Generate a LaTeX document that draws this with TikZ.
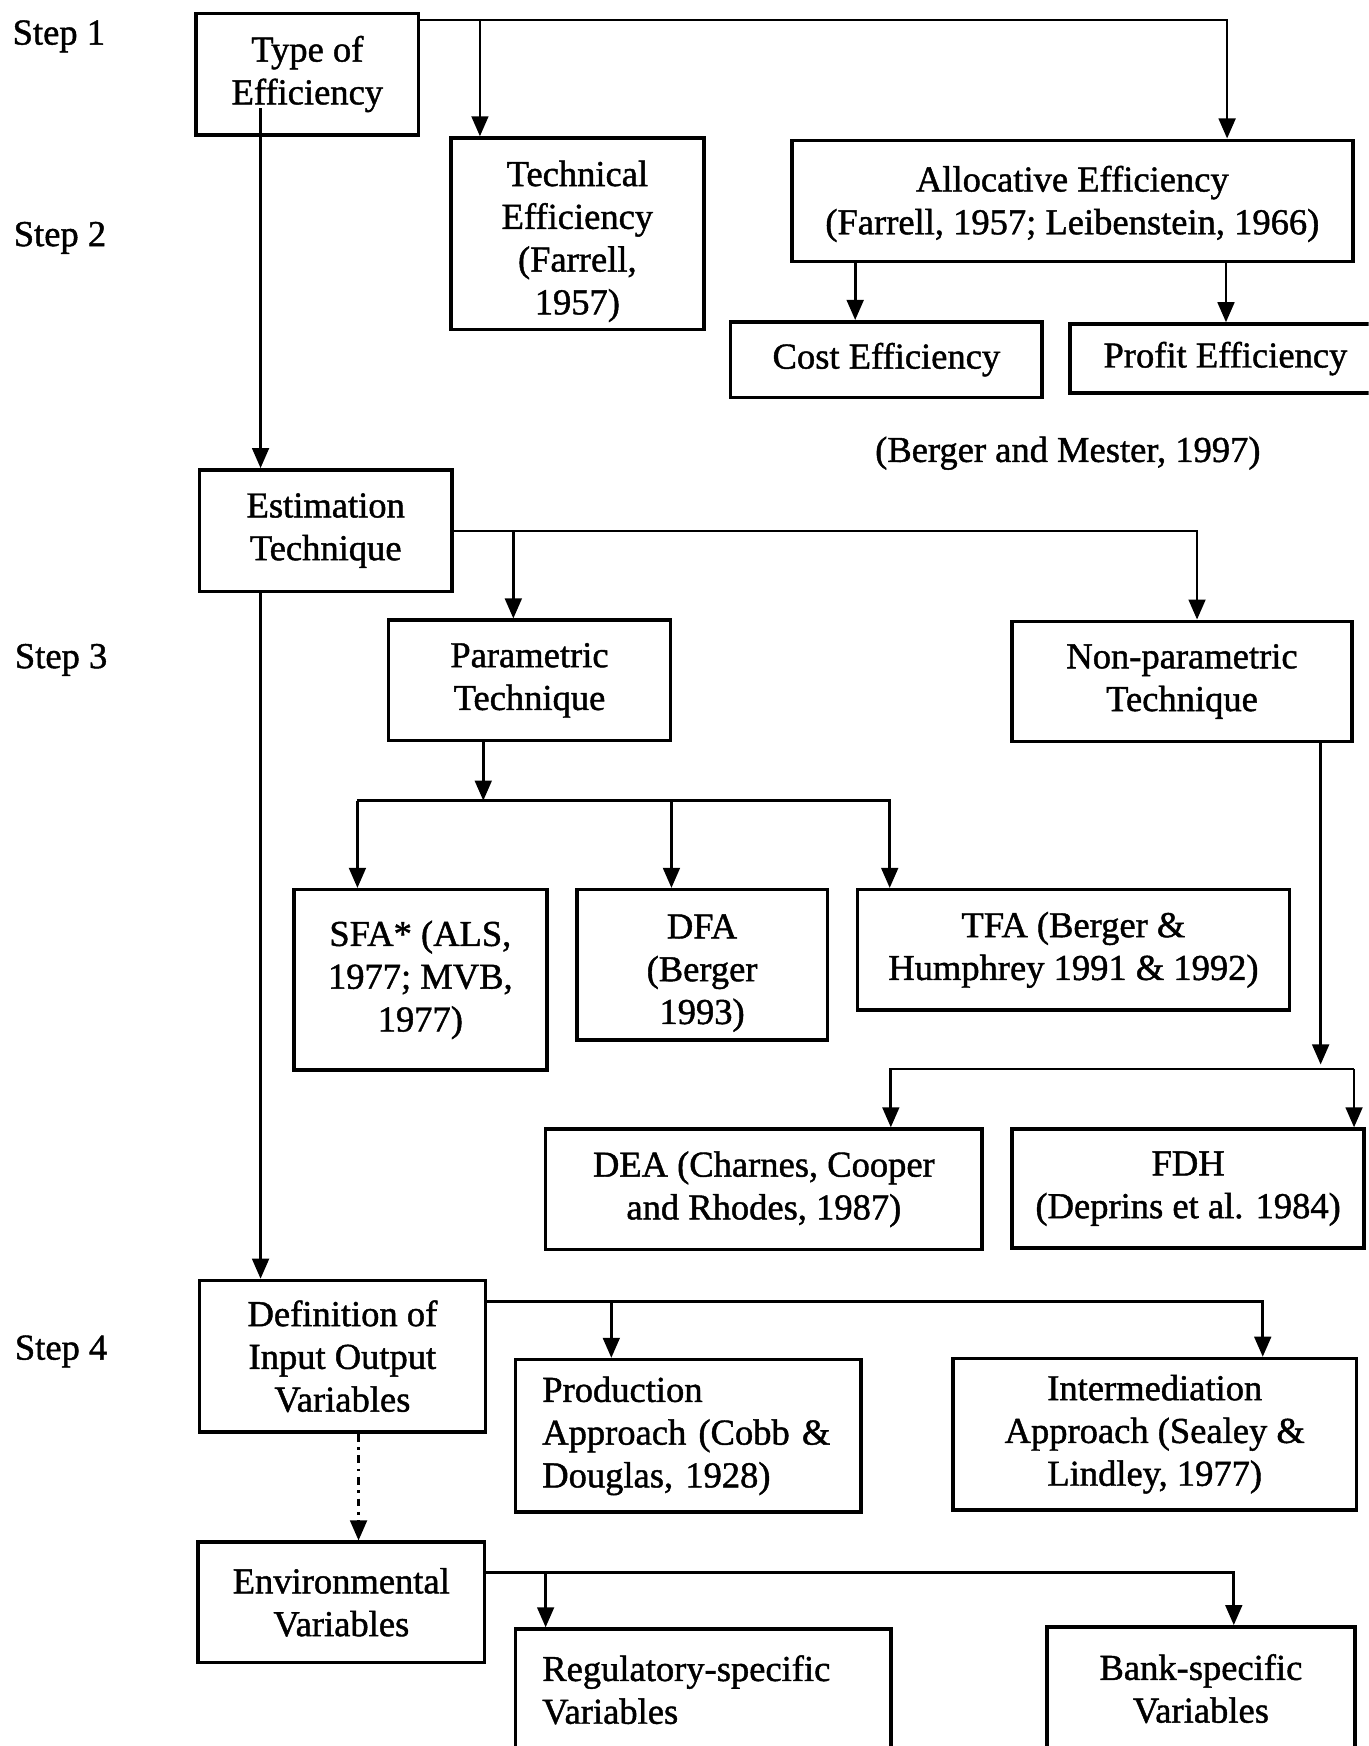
\documentclass[tikz,border=0pt]{standalone}
\usepackage{fontspec}
\setmainfont{Liberation Serif}[FakeBold=1.2]
\usetikzlibrary{arrows.meta}

% text size used throughout the chart
\newcommand{\chartfont}{\fontsize{16.4}{19.2}\selectfont}

% \drawbox[options]{name}{x1}{y1}{x2}{y2}{text}: a framed box spanning the two corners
\newcommand{\drawbox}[7][]{%
  \node[box, minimum width={(#5-#3)*0.5pt}, minimum height={(#6-#4)*0.5pt}, #1]
    (#2) at ({(#3+#5)/2},{(#4+#6)/2}) {#7};}

% \lowered{amount}{lines}: centred lines set lower in their box by half the amount
\newcommand{\lowered}[2]{\raisebox{0pt}[\dimexpr\height+#1\relax]{\begin{tabular}{@{}c@{}}#2\end{tabular}}}

\begin{document}
\begin{tikzpicture}[x=0.5pt, y=-0.5pt,
  box/.style={draw, line width=1.6pt, inner sep=0pt, align=center, font=\chartfont},
  lbl/.style={inner sep=0pt, font=\chartfont},
  conn/.style={line width=1.2pt},
  arr/.style={conn, -{Triangle[length=9pt, width=7.5pt]}},
  dasharr/.style={arr, dash pattern=on 3.5pt off 2.5pt on 1.2pt off 2.5pt}]

\useasboundingbox (0,0) rectangle (1229,1568);
\clip (0,0) rectangle (1229,1568);

% step labels
\node[lbl, anchor=base west] (st1) at (11,40) {Step 1};
\node[lbl, anchor=base west] (st2) at (12,221) {Step 2};
\node[lbl, anchor=base west] (st3) at (13,600) {Step 3};
\node[lbl, anchor=base west] (st4) at (13,1221) {Step 4};

% step 1 and 2: type of efficiency
\drawbox{type}{176}{12}{376}{121}{Type of\\Efficiency}
\drawbox{tech}{405}{124}{632}{296}{\lowered{7pt}{Technical\\Efficiency\\(Farrell,\\1957)}}
\drawbox{alloc}{711}{126}{1215}{235}{\lowered{3pt}{Allocative Efficiency\\(Farrell, 1957; Leibenstein, 1966)}}
\drawbox{cost}{656}{289}{936}{357}{Cost Efficiency}
\drawbox{profit}{961}{291}{1240}{353}{Profit Efficiency}
\node[lbl] (bm) at (959,407) {(Berger and Mester, 1997)};

% step 3: estimation technique
\drawbox{est}{179}{422}{406}{531}{Estimation\\Technique}
\drawbox{par}{349}{557}{602}{665}{Parametric\\Technique}
\drawbox{np}{909}{558}{1214}{666}{Non-parametric\\Technique}
\drawbox{sfa}{264}{799}{491}{961}{SFA* (ALS,\\1977; MVB,\\1977)}
\drawbox{dfa}{518}{799}{743}{934}{\lowered{7pt}{DFA\\(Berger\\1993)}}
\drawbox{tfa}{770}{799}{1158}{907}{TFA (Berger \&\\Humphrey 1991 \& 1992)}
\drawbox{dea}{490}{1014}{882}{1122}{DEA (Charnes, Cooper\\and Rhodes, 1987)}
\drawbox{fdh}{909}{1014}{1225}{1121}{FDH\\(Deprins et al. 1984)}

% step 4: variables
\drawbox{def}{179}{1150}{436}{1286}{Definition of\\Input Output\\Variables}
\drawbox[align=left, text width={(773-463-48)*0.5pt}]{prod}{463}{1221}{773}{1358}{Production\\Approach (Cobb \&\\Douglas, 1928)}
\drawbox{inter}{856}{1220}{1218}{1356}{Intermediation\\Approach (Sealey \&\\Lindley, 1977)}
\drawbox{env}{178}{1385}{435}{1493}{Environmental\\Variables}
\drawbox[align=left, text width={(800-463-48)*0.5pt}]{reg}{463}{1463}{800}{1572}{Regulatory-specific\\Variables}
\drawbox{bank}{940}{1461}{1217}{1572}{Bank-specific\\Variables}

% connectors: type of efficiency
\coordinate (r1) at (1102,18);
\coordinate (b1) at (431,18);
\draw[arr] (type.east |- r1) -| (alloc.north -| r1);
\draw[arr] (b1) -- (tech.north -| b1);
\draw[arr] (alloc.south -| 768,0) -- (cost.north -| 768,0);
\draw[arr] (alloc.south -| 1101,0) -- (profit.north -| 1101,0);
\coordinate (s1) at (234,97);
\draw[arr] (s1) -- (est.north -| s1);

% connectors: estimation technique
\draw[arr] (est.south -| 234,0) -- (def.north -| 234,0);
\coordinate (r2) at (1075,477);
\coordinate (b2) at (461,477);
\draw[arr] (est.east |- r2) -| (np.north -| r2);
\draw[arr] (b2) -- (par.north -| b2);

\coordinate (b3) at (434,719);
\coordinate (l3) at (321,719);
\coordinate (r3) at (799,719);
\coordinate (m3) at (603,719);
\draw[arr] (par.south -| b3) -- (b3);
\draw[arr] (l3) -- (r3) -- (tfa.north -| r3);
\draw[arr] (l3) -- (sfa.north -| l3);
\draw[arr] (m3) -- (dfa.north -| m3);

\coordinate (j4) at (1186,956);
\coordinate (l4) at (800,960);
\coordinate (r4) at (1216,960);
\draw[arr] (np.south -| j4) -- (j4);
\draw[arr] (r4) -- (l4) -- (dea.north -| l4);
\draw[arr] (r4) -- (fdh.north -| r4);

% connectors: variables
\coordinate (r5) at (1134,1169);
\coordinate (b5) at (549,1169);
\draw[arr] (def.east |- r5) -| (inter.north -| r5);
\draw[arr] (b5) -- (prod.north -| b5);
\draw[dasharr] (def.south -| 322,0) -- (env.north -| 322,0);

\coordinate (r6) at (1108,1412);
\coordinate (b6) at (490,1412);
\draw[arr] (env.east |- r6) -| (bank.north -| r6);
\draw[arr] (b6) -- (reg.north -| b6);

\end{tikzpicture}
\end{document}
